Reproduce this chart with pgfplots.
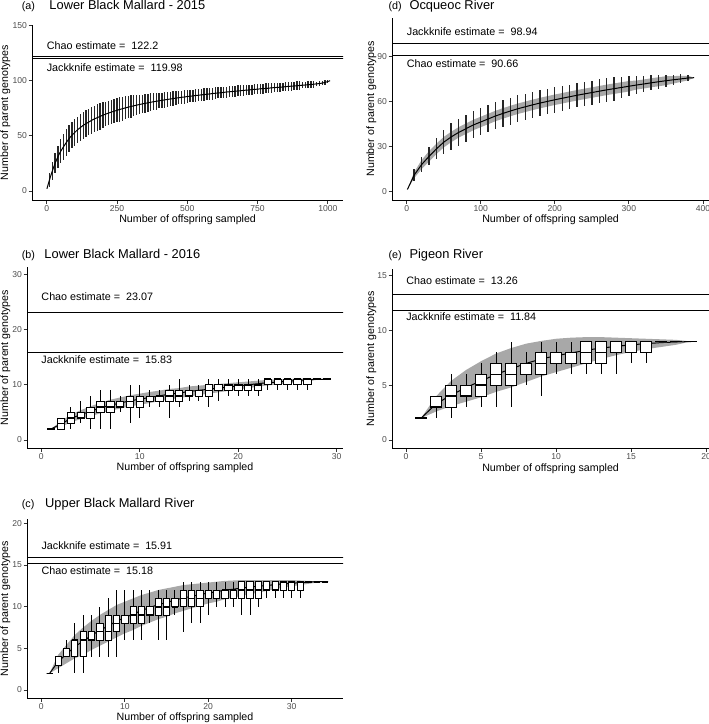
\documentclass[border=0pt]{standalone}
\usepackage{fontspec}
\setmainfont{Liberation Sans}
\usepackage{pgfplots}
\pgfplotsset{compat=1.18}
\usepackage{pgfplotstable}
\usepgfplotslibrary{statistics}
\definecolor{rib}{RGB}{168,168,168}
\definecolor{tickgray}{RGB}{77,77,77}
\definecolor{tickdark}{RGB}{51,51,51}
\newcommand\fTick{\fontsize{8.6}{10}\selectfont}
\newcommand\fLab{\fontsize{10.7}{12.8}\selectfont}
\newcommand\fAnn{\fontsize{10.8}{13}\selectfont}
\newcommand\fTtl{\fontsize{12.9}{15.5}\selectfont}
\newcommand\fTag{\fontsize{10.8}{13}\selectfont}

\pgfplotsset{
  rs/.style={scale only axis, anchor=south west,
    axis x line*=bottom, axis y line*=left,
    axis line style={-, black, line width=0.8bp},
    tick align=outside, major tick length=3.6bp,
    tick style={line width=0.8bp, color=tickdark},
    ticklabel style={font=\fTick, text=tickgray},
    xticklabel style={anchor=north, inner sep=1.5bp},
    yticklabel style={anchor=east, inner sep=1.5bp},
    /pgf/number format/assume math mode=true,
    scaled ticks=false, minor tick num=0,
    boxplot/draw direction=y,
    boxplot/box extend=0.75, boxplot/whisker extend=0,
    boxplot/every median/.style={line width=1.6bp},
    boxplot/every whisker/.style={line width=0.7bp},
  },
  bx/.style={black, fill=white, line width=0.7bp, solid, mark=none},
  est/.style={black, line width=0.8bp, mark=none},
  mn/.style={black, line width=1bp, mark=none},
  eb/.style={draw=none, mark=none, error bars/.cd, y dir=both, y explicit, error mark=none, error bar style={draw=black!85, solid, line width=1.35bp}},
}

% Panel (a): mean curve and whisker half-range
\pgfplotstableread{
x m e
1 2 0
10 10 6
20 18 8
30 25 9
40 31 10
50 36 11
60 40 12
70 44 12
80 47.5 12
90 50.5 12
100 53 12
110 55.5 12
120 57.5 12
130 59.5 12
140 61 12
150 62.5 12
160 64 12
170 65.3 12
180 66.5 12
190 67.6 12
200 68.7 12
210 69.7 11
220 70.6 11
230 71.5 11
240 72.3 11
250 73.1 11
260 73.9 11
270 74.6 11
280 75.3 10.5
290 76 10
300 76.6 10
310 77.2 9.5
320 77.8 9
330 78.4 9
340 78.9 8.5
350 79.4 8.5
360 79.9 8
370 80.4 8
380 80.9 7.5
390 81.3 7.5
400 81.8 7
410 82.2 7
420 82.6 7
430 83 6.5
440 83.4 6.5
450 83.8 6.5
460 84.2 6
470 84.5 6
480 84.9 6
490 85.2 6
500 85.6 6
510 85.9 5.5
520 86.2 5.5
530 86.5 5.5
540 86.8 5.5
550 87.1 5.5
560 87.4 5.5
570 87.7 5.5
580 88 5.5
590 88.3 5.5
600 88.6 5.5
610 88.9 5
620 89.1 5
630 89.4 5
640 89.7 5
650 89.9 5
660 90.2 5
670 90.4 5
680 90.7 5
690 90.9 5
700 91.2 5
710 91.4 4.5
720 91.6 4.5
730 91.9 4.5
740 92.1 4.5
750 92.3 4.5
760 92.6 4.5
770 92.8 4.5
780 93 4.5
790 93.2 4.5
800 93.5 4.5
810 93.7 4
820 93.9 4
830 94.1 4
840 94.3 4
850 94.6 4
860 94.8 4
870 95 4
880 95.2 4
890 95.4 4
900 95.7 4
910 95.9 3
920 96.1 3
930 96.4 3
940 96.6 3
950 96.8 3
960 97.1 2
970 97.4 2
980 97.8 2
990 98.4 2
1000 99.2 1.2
1008 100 0
}\tabA

% Panel (d): mean curve and whisker half-range
\pgfplotstableread{
x m e
1 1.5 0
10 11 4
20 18 5
30 23.5 6
40 28.5 7
50 33 8
60 36.5 9
70 39.5 9
80 42 9
90 44.5 9
100 46.5 9
110 48.5 9
120 50.5 9
130 52.2 9
140 53.8 9
150 55.3 9
160 56.6 8.5
170 57.9 8.5
180 59.1 8.5
190 60.2 8.5
200 61.3 8.5
210 62.3 8.5
220 63.3 8
230 64.3 8
240 65.2 8
250 66.1 8
260 67 8
270 67.9 8
280 68.7 8
290 69.5 7
300 70.3 6.5
310 71.1 6
320 71.8 5.5
330 72.6 5
340 73.3 4.5
350 74 4
360 74.6 3.5
370 75.2 3
380 75.8 2
388 76 0
}\tabD

% Panel (d) ribbon outline
\pgfplotstableread{
x y
1 1.5
10 13
20 21
30 27
40 32
50 36.5
60 40
70 43
80 45.5
90 48
100 50
110 52
120 54
130 55.7
140 57.3
150 58.8
160 60.1
170 61.4
180 62.6
190 63.7
200 64.8
210 65.8
220 66.8
230 67.8
240 68.7
250 69.6
260 70.5
270 71.4
280 72.2
290 73
300 73.8
310 74.1
320 74.8
330 75.6
340 76.3
350 77
360 77.1
370 77.2
380 77.3
388 76
380 74.3
370 73.2
360 72.1
350 71
340 70.3
330 69.6
320 68.8
310 68.1
300 66.8
290 66
280 65.2
270 64.4
260 63.5
250 62.6
240 61.7
230 60.8
220 59.8
210 58.8
200 57.8
190 56.7
180 55.6
170 54.4
160 53.1
150 51.8
140 50.3
130 48.7
120 47
110 45
100 43
90 41
80 38.5
70 36
60 33
50 29.5
40 25
30 20
20 15
10 9
}\polyD

% Panel (b) mean line
\pgfplotstableread{
x m
1 2.0
2 2.9
3 3.9
4 4.6
5 5.2
6 5.8
7 6.3
8 6.7
9 7.1
10 7.4
11 7.7
12 8.0
13 8.3
14 8.5
15 8.8
16 9.0
17 9.2
18 9.4
19 9.6
20 9.8
21 10.0
22 10.2
23 10.4
24 10.5
25 10.65
26 10.8
27 10.9
28 11.0
29 11.0
}\tabB

% Panel (b) ribbon outline
\pgfplotstableread{
x y
1 2.0
2 3.4
3 4.6
4 5.4
5 6.1
6 6.75
7 7.3
8 7.7
9 8.1
10 8.4
11 8.7
12 8.95
13 9.25
14 9.4
15 9.7
16 9.85
17 10.0
18 10.15
19 10.3
20 10.45
21 10.6
22 10.75
23 10.9
24 10.95
25 11.05
26 11.1
27 11.15
28 11.1
29 11.0
28 10.9
27 10.65
26 10.5
25 10.25
24 10.05
23 9.9
22 9.65
21 9.4
20 9.15
19 8.9
18 8.65
17 8.4
16 8.15
15 7.9
14 7.6
13 7.35
12 7.05
11 6.7
10 6.4
9 6.1
8 5.7
7 5.3
6 4.85
5 4.3
4 3.8
3 3.2
2 2.4
}\polyB

% Panel (c) mean line
\pgfplotstableread{
x m
1 2
2 3.4
3 4.3
4 5.2
5 5.85
6 6.55
7 7.15
8 7.7
9 8.25
10 8.7
11 9.1
12 9.55
13 9.9
14 10.25
15 10.5
16 10.8
17 11.05
18 11.25
19 11.45
20 11.65
21 11.8
22 12.0
23 12.1
24 12.25
25 12.35
26 12.45
27 12.55
28 12.65
29 12.75
30 12.8
31 12.9
32 12.95
33 13
34 13
}\tabC

% Panel (c) ribbon outline
\pgfplotstableread{
x y
1 2
2 4.2
3 5.4
4 6.6
5 7.5
6 8.3
7 9.0
8 9.6
9 10.2
10 10.6
11 11.0
12 11.4
13 11.7
14 12.0
15 12.2
16 12.4
17 12.6
18 12.7
19 12.8
20 12.9
21 13.0
22 13.1
23 13.15
24 13.2
25 13.2
26 13.2
27 13.2
28 13.2
29 13.2
30 13.2
31 13.15
32 13.1
33 13.05
34 13
33 12.9
32 12.75
31 12.6
30 12.45
29 12.3
28 12.1
27 11.9
26 11.7
25 11.5
24 11.3
23 11.1
22 10.9
21 10.6
20 10.4
19 10.1
18 9.8
17 9.5
16 9.2
15 8.8
14 8.5
13 8.1
12 7.7
11 7.2
10 6.8
9 6.3
8 5.8
7 5.3
6 4.8
5 4.2
4 3.8
3 3.2
2 2.6
}\polyC

% Panel (e) mean line
\pgfplotstableread{
x m
1 2
2 3.3
3 4.1
4 4.8
5 5.4
6 6.0
7 6.5
8 7.0
9 7.4
10 7.7
11 7.95
12 8.2
13 8.4
14 8.55
15 8.7
16 8.8
17 8.9
18 8.95
19 9
}\tabE

% Panel (e) ribbon outline
\pgfplotstableread{
x y
1 2
2 4.0
3 5.4
4 6.4
5 7.2
6 7.9
7 8.4
8 8.8
9 9.05
10 9.25
11 9.35
12 9.4
13 9.4
14 9.35
15 9.3
16 9.25
17 9.2
18 9.15
19 9
18 8.7
17 8.5
16 8.3
15 8.05
14 7.75
13 7.4
12 7.0
11 6.6
10 6.2
9 5.8
8 5.3
7 4.8
6 4.4
5 3.9
4 3.5
3 3.1
2 2.6
}\polyE

\begin{document}
\begin{tikzpicture}[x=1bp,y=1bp]
\useasboundingbox (0,0) rectangle (709,724);

% ---------------- (a)
\begin{axis}[rs, at={(32.3bp,524bp)}, width=310.7bp, height=175bp,
  xmin=-51, xmax=1054, ymin=-8.2, ymax=150.5,
  xtick={0,250,500,750,1000}, xticklabels={0,250,500,750,1000},
  ytick={0,50,100,150}]
  \addplot[eb] table[x=x,y=m,y error=e]{\tabA};
  \addplot[mn] table[x=x,y=m]{\tabA};
  \addplot[est] coordinates {(-100,122.2) (1100,122.2)};
  \addplot[est] coordinates {(-100,119.98) (1100,119.98)};
  \node[anchor=west, inner sep=0pt, font=\fAnn] at (axis cs:0,132) {Chao estimate = \ 122.2};
  \node[anchor=west, inner sep=0pt, font=\fAnn] at (axis cs:0,112) {Jackknife estimate = \ 119.98};
\end{axis}

% ---------------- (b)
\begin{axis}[rs, at={(27.3bp,275.7bp)}, width=315.7bp, height=181.6bp,
  xmin=-1.42, xmax=30.64, ymin=-1.5, ymax=31.4,
  xtick={0,10,20,30}, ytick={0,10,20,30}]
  \addplot[fill=rib, draw=none, mark=none] table[x=x,y=y]{\polyB};
  \addplot[mn] table[x=x,y=m]{\tabB};
  \addplot[bx, boxplot prepared={draw position=1, lower whisker=2, lower quartile=2, median=2, upper quartile=2, upper whisker=2}] coordinates {};
  \addplot[bx, boxplot prepared={draw position=2, lower whisker=2, lower quartile=2, median=3, upper quartile=4, upper whisker=4}] coordinates {};
  \addplot[bx, boxplot prepared={draw position=3, lower whisker=2, lower quartile=3, median=4, upper quartile=5, upper whisker=6}] coordinates {};
  \addplot[bx, boxplot prepared={draw position=4, lower whisker=3, lower quartile=4, median=4, upper quartile=5, upper whisker=7}] coordinates {};
  \addplot[bx, boxplot prepared={draw position=5, lower whisker=2, lower quartile=4, median=5, upper quartile=6, upper whisker=8}] coordinates {};
  \addplot[bx, boxplot prepared={draw position=6, lower whisker=2, lower quartile=5, median=6, upper quartile=7, upper whisker=9}] coordinates {};
  \addplot[bx, boxplot prepared={draw position=7, lower whisker=2, lower quartile=5, median=6, upper quartile=7, upper whisker=9}] coordinates {};
  \addplot[bx, boxplot prepared={draw position=8, lower whisker=5, lower quartile=6, median=6, upper quartile=7, upper whisker=8}] coordinates {};
  \addplot[bx, boxplot prepared={draw position=9, lower whisker=3, lower quartile=6, median=7, upper quartile=8, upper whisker=10}] coordinates {};
  \addplot[bx, boxplot prepared={draw position=10, lower whisker=4, lower quartile=6, median=7, upper quartile=8, upper whisker=10}] coordinates {};
  \addplot[bx, boxplot prepared={draw position=11, lower whisker=6, lower quartile=7, median=7, upper quartile=8, upper whisker=9}] coordinates {};
  \addplot[bx, boxplot prepared={draw position=12, lower whisker=6, lower quartile=7, median=8, upper quartile=8, upper whisker=9}] coordinates {};
  \addplot[bx, boxplot prepared={draw position=13, lower whisker=4, lower quartile=7, median=8, upper quartile=9, upper whisker=10}] coordinates {};
  \addplot[bx, boxplot prepared={draw position=14, lower whisker=6, lower quartile=7, median=8, upper quartile=9, upper whisker=11}] coordinates {};
  \addplot[bx, boxplot prepared={draw position=15, lower whisker=7, lower quartile=8, median=8, upper quartile=9, upper whisker=10}] coordinates {};
  \addplot[bx, boxplot prepared={draw position=16, lower whisker=7, lower quartile=8, median=9, upper quartile=9, upper whisker=10}] coordinates {};
  \addplot[bx, boxplot prepared={draw position=17, lower whisker=6, lower quartile=8, median=9, upper quartile=10, upper whisker=11}] coordinates {};
  \addplot[bx, boxplot prepared={draw position=18, lower whisker=7, lower quartile=9, median=9, upper quartile=10, upper whisker=11}] coordinates {};
  \addplot[bx, boxplot prepared={draw position=19, lower whisker=8, lower quartile=9, median=10, upper quartile=10, upper whisker=11}] coordinates {};
  \addplot[bx, boxplot prepared={draw position=20, lower whisker=8, lower quartile=9, median=10, upper quartile=10, upper whisker=11}] coordinates {};
  \addplot[bx, boxplot prepared={draw position=21, lower whisker=8, lower quartile=9, median=10, upper quartile=10, upper whisker=11}] coordinates {};
  \addplot[bx, boxplot prepared={draw position=22, lower whisker=8, lower quartile=9, median=10, upper quartile=10, upper whisker=11}] coordinates {};
  \addplot[bx, boxplot prepared={draw position=23, lower whisker=9, lower quartile=10, median=11, upper quartile=11, upper whisker=11}] coordinates {};
  \addplot[bx, boxplot prepared={draw position=24, lower whisker=9, lower quartile=10, median=11, upper quartile=11, upper whisker=11}] coordinates {};
  \addplot[bx, boxplot prepared={draw position=25, lower whisker=9, lower quartile=10, median=11, upper quartile=11, upper whisker=11}] coordinates {};
  \addplot[bx, boxplot prepared={draw position=26, lower whisker=9, lower quartile=10, median=11, upper quartile=11, upper whisker=11}] coordinates {};
  \addplot[bx, boxplot prepared={draw position=27, lower whisker=9, lower quartile=10, median=11, upper quartile=11, upper whisker=11}] coordinates {};
  \addplot[bx, boxplot prepared={draw position=28, lower whisker=11, lower quartile=11, median=11, upper quartile=11, upper whisker=11}] coordinates {};
  \addplot[bx, boxplot prepared={draw position=29, lower whisker=11, lower quartile=11, median=11, upper quartile=11, upper whisker=11}] coordinates {};
  \addplot[est] coordinates {(-5,23.07) (40,23.07)};
  \addplot[est] coordinates {(-5,15.83) (40,15.83)};
  \node[anchor=west, inner sep=0pt, font=\fAnn] at (axis cs:0,25.9) {Chao estimate = \ 23.07};
  \node[anchor=west, inner sep=0pt, font=\fAnn] at (axis cs:0,14.5) {Jackknife estimate = \ 15.83};
\end{axis}

% ---------------- (c)
\begin{axis}[rs, at={(27.3bp,25.7bp)}, width=315.7bp, height=179bp,
  xmin=-1.68, xmax=36.15, ymin=-1.0, ymax=20.5,
  xtick={0,10,20,30}, ytick={0,5,10,15,20}]
  \addplot[fill=rib, draw=none, mark=none] table[x=x,y=y]{\polyC};
  \addplot[mn] table[x=x,y=m]{\tabC};
  \addplot[bx, boxplot prepared={draw position=1, lower whisker=2, lower quartile=2, median=2, upper quartile=2, upper whisker=2}] coordinates {};
  \addplot[bx, boxplot prepared={draw position=2, lower whisker=2, lower quartile=3, median=4, upper quartile=4, upper whisker=4}] coordinates {};
  \addplot[bx, boxplot prepared={draw position=3, lower whisker=4, lower quartile=4, median=4, upper quartile=5, upper whisker=6}] coordinates {};
  \addplot[bx, boxplot prepared={draw position=4, lower whisker=2, lower quartile=4, median=6, upper quartile=6, upper whisker=8}] coordinates {};
  \addplot[bx, boxplot prepared={draw position=5, lower whisker=2, lower quartile=4, median=6, upper quartile=7, upper whisker=9}] coordinates {};
  \addplot[bx, boxplot prepared={draw position=6, lower whisker=4, lower quartile=6, median=6, upper quartile=7, upper whisker=9}] coordinates {};
  \addplot[bx, boxplot prepared={draw position=7, lower whisker=4, lower quartile=6, median=7, upper quartile=8, upper whisker=10}] coordinates {};
  \addplot[bx, boxplot prepared={draw position=8, lower whisker=4, lower quartile=6, median=7, upper quartile=9, upper whisker=11}] coordinates {};
  \addplot[bx, boxplot prepared={draw position=9, lower whisker=4, lower quartile=7, median=8, upper quartile=9, upper whisker=12}] coordinates {};
  \addplot[bx, boxplot prepared={draw position=10, lower whisker=6, lower quartile=8, median=8, upper quartile=9, upper whisker=12}] coordinates {};
  \addplot[bx, boxplot prepared={draw position=11, lower whisker=6, lower quartile=8, median=9, upper quartile=10, upper whisker=12}] coordinates {};
  \addplot[bx, boxplot prepared={draw position=12, lower whisker=6, lower quartile=8, median=9, upper quartile=10, upper whisker=12}] coordinates {};
  \addplot[bx, boxplot prepared={draw position=13, lower whisker=8, lower quartile=9, median=9, upper quartile=10, upper whisker=12}] coordinates {};
  \addplot[bx, boxplot prepared={draw position=14, lower whisker=6, lower quartile=9, median=10, upper quartile=11, upper whisker=12}] coordinates {};
  \addplot[bx, boxplot prepared={draw position=15, lower whisker=6, lower quartile=9, median=10, upper quartile=11, upper whisker=12}] coordinates {};
  \addplot[bx, boxplot prepared={draw position=16, lower whisker=9, lower quartile=10, median=10, upper quartile=11, upper whisker=12}] coordinates {};
  \addplot[bx, boxplot prepared={draw position=17, lower whisker=7, lower quartile=10, median=11, upper quartile=12, upper whisker=13}] coordinates {};
  \addplot[bx, boxplot prepared={draw position=18, lower whisker=8, lower quartile=10, median=11, upper quartile=12, upper whisker=13}] coordinates {};
  \addplot[bx, boxplot prepared={draw position=19, lower whisker=8, lower quartile=10, median=11, upper quartile=12, upper whisker=13}] coordinates {};
  \addplot[bx, boxplot prepared={draw position=20, lower whisker=9, lower quartile=11, median=11, upper quartile=12, upper whisker=13}] coordinates {};
  \addplot[bx, boxplot prepared={draw position=21, lower whisker=10, lower quartile=11, median=11, upper quartile=12, upper whisker=13}] coordinates {};
  \addplot[bx, boxplot prepared={draw position=22, lower whisker=10, lower quartile=11, median=12, upper quartile=12, upper whisker=13}] coordinates {};
  \addplot[bx, boxplot prepared={draw position=23, lower whisker=10, lower quartile=11, median=12, upper quartile=12, upper whisker=13}] coordinates {};
  \addplot[bx, boxplot prepared={draw position=24, lower whisker=9, lower quartile=11, median=12, upper quartile=13, upper whisker=13}] coordinates {};
  \addplot[bx, boxplot prepared={draw position=25, lower whisker=9, lower quartile=11, median=12, upper quartile=13, upper whisker=13}] coordinates {};
  \addplot[bx, boxplot prepared={draw position=26, lower whisker=10, lower quartile=11, median=12, upper quartile=13, upper whisker=13}] coordinates {};
  \addplot[bx, boxplot prepared={draw position=27, lower whisker=11, lower quartile=12, median=12, upper quartile=13, upper whisker=13}] coordinates {};
  \addplot[bx, boxplot prepared={draw position=28, lower whisker=11, lower quartile=12, median=12, upper quartile=13, upper whisker=13}] coordinates {};
  \addplot[bx, boxplot prepared={draw position=29, lower whisker=11, lower quartile=12, median=13, upper quartile=13, upper whisker=13}] coordinates {};
  \addplot[bx, boxplot prepared={draw position=30, lower whisker=11, lower quartile=12, median=13, upper quartile=13, upper whisker=13}] coordinates {};
  \addplot[bx, boxplot prepared={draw position=31, lower whisker=11, lower quartile=12, median=13, upper quartile=13, upper whisker=13}] coordinates {};
  \addplot[bx, boxplot prepared={draw position=32, lower whisker=13, lower quartile=13, median=13, upper quartile=13, upper whisker=13}] coordinates {};
  \addplot[bx, boxplot prepared={draw position=33, lower whisker=13, lower quartile=13, median=13, upper quartile=13, upper whisker=13}] coordinates {};
  \addplot[bx, boxplot prepared={draw position=34, lower whisker=13, lower quartile=13, median=13, upper quartile=13, upper whisker=13}] coordinates {};
  \addplot[est] coordinates {(-5,15.91) (40,15.91)};
  \addplot[est] coordinates {(-5,15.18) (40,15.18)};
  \node[anchor=west, inner sep=0pt, font=\fAnn] at (axis cs:0,17.3) {Jackknife estimate = \ 15.91};
  \node[anchor=west, inner sep=0pt, font=\fAnn] at (axis cs:0,14.3) {Chao estimate = \ 15.18};
\end{axis}

% ---------------- (d)
\begin{axis}[rs, at={(392.3bp,524bp)}, width=316.7bp, height=182bp,
  xmin=-19.4, xmax=408.2, ymin=-5.5, ymax=115.8,
  xtick={0,100,200,300,400}, ytick={0,30,60,90}]
  \addplot[fill=rib, draw=none, mark=none] table[x=x,y=y]{\polyD};
  \addplot[eb] table[x=x,y=m,y error=e]{\tabD};
  \addplot[mn] table[x=x,y=m]{\tabD};
  \addplot[est] coordinates {(-50,98.94) (450,98.94)};
  \addplot[est] coordinates {(-50,90.66) (450,90.66)};
  \node[anchor=west, inner sep=0pt, font=\fAnn] at (axis cs:0,106.7) {Jackknife estimate = \ 98.94};
  \node[anchor=west, inner sep=0pt, font=\fAnn] at (axis cs:0,85.5) {Chao estimate = \ 90.66};
\end{axis}

% ---------------- (e)
\begin{axis}[rs, at={(392.3bp,275.7bp)}, width=316.7bp, height=179bp,
  xmin=-0.92, xmax=20.2, ymin=-0.76, ymax=15.6,
  xtick={0,5,10,15,20}, ytick={0,5,10,15}]
  \addplot[fill=rib, draw=none, mark=none] table[x=x,y=y]{\polyE};
  \addplot[mn] table[x=x,y=m]{\tabE};
  \addplot[bx, boxplot prepared={draw position=1, lower whisker=2, lower quartile=2, median=2, upper quartile=2, upper whisker=2}] coordinates {};
  \addplot[bx, boxplot prepared={draw position=2, lower whisker=2, lower quartile=3, median=3, upper quartile=4, upper whisker=4}] coordinates {};
  \addplot[bx, boxplot prepared={draw position=3, lower whisker=2, lower quartile=3, median=4, upper quartile=5, upper whisker=6}] coordinates {};
  \addplot[bx, boxplot prepared={draw position=4, lower whisker=3, lower quartile=4, median=4, upper quartile=5, upper whisker=6}] coordinates {};
  \addplot[bx, boxplot prepared={draw position=5, lower whisker=3, lower quartile=4, median=5, upper quartile=6, upper whisker=7}] coordinates {};
  \addplot[bx, boxplot prepared={draw position=6, lower whisker=3, lower quartile=5, median=6, upper quartile=7, upper whisker=8}] coordinates {};
  \addplot[bx, boxplot prepared={draw position=7, lower whisker=3, lower quartile=5, median=6, upper quartile=7, upper whisker=9}] coordinates {};
  \addplot[bx, boxplot prepared={draw position=8, lower whisker=5, lower quartile=6, median=6, upper quartile=7, upper whisker=8}] coordinates {};
  \addplot[bx, boxplot prepared={draw position=9, lower whisker=4, lower quartile=6, median=7, upper quartile=8, upper whisker=9}] coordinates {};
  \addplot[bx, boxplot prepared={draw position=10, lower whisker=6, lower quartile=7, median=7, upper quartile=8, upper whisker=9}] coordinates {};
  \addplot[bx, boxplot prepared={draw position=11, lower whisker=6, lower quartile=7, median=7, upper quartile=8, upper whisker=9}] coordinates {};
  \addplot[bx, boxplot prepared={draw position=12, lower whisker=6, lower quartile=7, median=8, upper quartile=9, upper whisker=9}] coordinates {};
  \addplot[bx, boxplot prepared={draw position=13, lower whisker=6, lower quartile=7, median=8, upper quartile=9, upper whisker=9}] coordinates {};
  \addplot[bx, boxplot prepared={draw position=14, lower whisker=6, lower quartile=8, median=9, upper quartile=9, upper whisker=9}] coordinates {};
  \addplot[bx, boxplot prepared={draw position=15, lower whisker=7, lower quartile=8, median=9, upper quartile=9, upper whisker=9}] coordinates {};
  \addplot[bx, boxplot prepared={draw position=16, lower whisker=7, lower quartile=8, median=9, upper quartile=9, upper whisker=9}] coordinates {};
  \addplot[bx, boxplot prepared={draw position=17, lower whisker=9, lower quartile=9, median=9, upper quartile=9, upper whisker=9}] coordinates {};
  \addplot[bx, boxplot prepared={draw position=18, lower whisker=9, lower quartile=9, median=9, upper quartile=9, upper whisker=9}] coordinates {};
  \addplot[bx, boxplot prepared={draw position=19, lower whisker=9, lower quartile=9, median=9, upper quartile=9, upper whisker=9}] coordinates {};
  \addplot[est] coordinates {(-5,13.26) (25,13.26)};
  \addplot[est] coordinates {(-5,11.84) (25,11.84)};
  \node[anchor=west, inner sep=0pt, font=\fAnn] at (axis cs:0,14.6) {Chao estimate = \ 13.26};
  \node[anchor=west, inner sep=0pt, font=\fAnn] at (axis cs:0,11.3) {Jackknife estimate = \ 11.84};
\end{axis}

% ---------------- titles and axis titles
\node[anchor=base west, inner sep=0pt, font=\fTag] at (21.7,714.7) {(a)};
\node[anchor=base west, inner sep=0pt, font=\fTtl] at (49.3,714.7) {Lower Black Mallard - 2015};
\node[anchor=base west, inner sep=0pt, font=\fTag] at (21.7,465.7) {(b)};
\node[anchor=base west, inner sep=0pt, font=\fTtl] at (44.3,465.7) {Lower Black Mallard - 2016};
\node[anchor=base west, inner sep=0pt, font=\fTag] at (21.7,216.7) {(c)};
\node[anchor=base west, inner sep=0pt, font=\fTtl] at (45,216.7) {Upper Black Mallard River};
\node[anchor=base west, inner sep=0pt, font=\fTag] at (388.3,714.7) {(d)};
\node[anchor=base west, inner sep=0pt, font=\fTtl] at (409.3,714.7) {Ocqueoc River};
\node[anchor=base west, inner sep=0pt, font=\fTag] at (388.3,465.7) {(e)};
\node[anchor=base west, inner sep=0pt, font=\fTtl] at (409.3,465.7) {Pigeon River};

\node[anchor=base, inner sep=0pt, font=\fLab] at (187.6,501) {Number of offspring sampled};
\node[anchor=base, inner sep=0pt, font=\fLab] at (185,253) {Number of offspring sampled};
\node[anchor=base, inner sep=0pt, font=\fLab] at (185,3.3) {Number of offspring sampled};
\node[anchor=base, inner sep=0pt, font=\fLab] at (550.6,501) {Number of offspring sampled};
\node[anchor=base, inner sep=0pt, font=\fLab] at (550.6,252.5) {Number of offspring sampled};

\node[anchor=base, rotate=90, inner sep=0pt, font=\fLab] at (8.0,611.5) {Number of parent genotypes};
\node[anchor=base, rotate=90, inner sep=0pt, font=\fLab] at (8.0,366.5) {Number of parent genotypes};
\node[anchor=base, rotate=90, inner sep=0pt, font=\fLab] at (8.0,115.2) {Number of parent genotypes};
\node[anchor=base, rotate=90, inner sep=0pt, font=\fLab] at (374,615) {Number of parent genotypes};
\node[anchor=base, rotate=90, inner sep=0pt, font=\fLab] at (374,365.2) {Number of parent genotypes};
\end{tikzpicture}
\end{document}
